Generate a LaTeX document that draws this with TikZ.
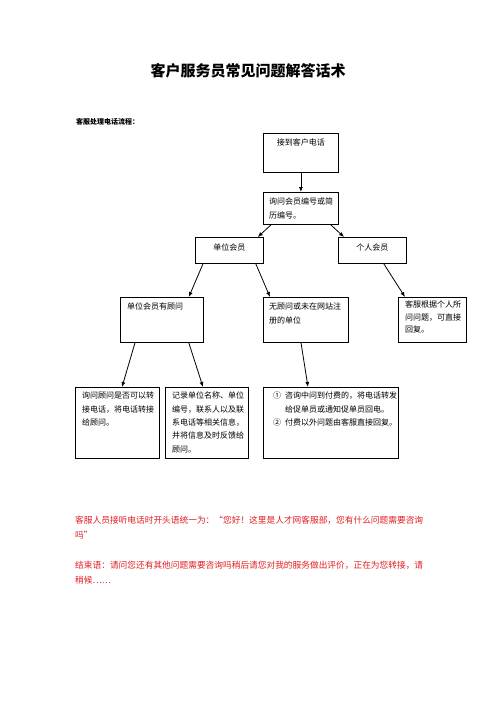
\documentclass[tikz,border=0pt]{standalone}
\usepackage{fontspec}
\setmainfont{Noto Sans CJK SC}
\usetikzlibrary{calc,arrows.meta}
\definecolor{redtxt}{RGB}{225,30,35}
\begin{document}
\begin{tikzpicture}[x=1pt,y=-1pt,
  box/.style={draw,line width=0.8pt,inner sep=0pt,anchor=north west},
  txt/.style={inner sep=0pt,anchor=north west,align=left,font=\fontsize{8}{13.3}\selectfont},
  redline/.style={inner sep=0pt,anchor=north west,align=left,text=redtxt,font=\fontsize{8.7}{15}\selectfont},
  arr/.style={-{Latex[length=5pt,width=4pt]},line width=0.8pt}]
\useasboundingbox[fill=white] (0,0) rectangle (496,702);

\node[font=\fontsize{15}{18}\bfseries\selectfont] (title) at (248,71) {客户服务员常见问题解答话术};
\node[anchor=west,inner sep=0pt,font=\fontsize{7}{8}\bfseries\selectfont] (head) at (76,122) {客服处理电话流程：};

% boxes
\node[box,minimum width=75pt,minimum height=39pt] (b1) at (263,133) {};
\node[box,minimum width=75pt,minimum height=32pt] (b2) at (263,192) {};
\node[box,minimum width=68pt,minimum height=26pt] (b3) at (195,237) {};
\node[box,minimum width=68pt,minimum height=26pt] (b4) at (338,237) {};
\node[box,minimum width=83pt,minimum height=45pt] (b5) at (120,297) {};
\node[box,minimum width=85pt,minimum height=45pt] (b6) at (263,297) {};
\node[box,minimum width=68pt,minimum height=45pt] (b7) at (398,297) {};
\node[box,minimum width=84pt,minimum height=71pt] (b8) at (75,387) {};
\node[box,minimum width=83pt,minimum height=71pt] (b9) at (165,387) {};
\node[box,minimum width=135pt,minimum height=71pt] (b10) at (263,387) {};

% texts
\node[txt,anchor=north] (t1) at ($(b1.north)+(0,6)$) {接到客户电话};
\node[txt] (t2) at ($(b2.north west)+(6,6)$) {询问会员编号或简\\历编号。};
\node[txt,anchor=north] (t3) at ($(b3.north)+(0,7)$) {单位会员};
\node[txt,anchor=north] (t4) at ($(b4.north)+(0,7)$) {个人会员};
\node[txt] (t5) at ($(b5.north west)+(7,6)$) {单位会员有顾问};
\node[txt] (t6) at ($(b6.north west)+(6,6)$) {无顾问或未在网站注\\册的单位};
\node[txt,font=\fontsize{8}{12.5}\selectfont] (t7) at ($(b7.north west)+(7,4)$) {客服根据个人所\\问问题，可直接\\回复。};
\node[txt] (t8) at ($(b8.north west)+(7,5)$) {询问顾问是否可以转\\接电话，将电话转接\\给顾问。};
\node[txt] (t9) at ($(b9.north west)+(7,5)$) {记录单位名称、单位\\编号，联系人以及联\\系电话等相关信息，\\并将信息及时反馈给\\顾问。};
\node[txt] (t10) at ($(b10.north west)+(10,5)$) {\makebox[12pt][l]{①}咨询中问到付费的，将电话转发\\\hspace*{12pt}给促单员或通知促单员回电。\\\makebox[12pt][l]{②}付费以外问题由客服直接回复。};

% arrows
\draw[arr] (b1.south) -- (b2.north);
\draw[arr] ($(b2.south west)+(8,0)$) -- ($(b3.north east)+(-6,0)$);
\draw[arr] ($(b2.south east)+(-8,0)$) -- ($(b4.north west)+(6,0)$);
\draw[arr] ($(b3.south west)+(8,0)$) -- ($(b5.north east)+(-15,0)$);
\draw[arr] ($(b3.south east)+(-8,0)$) -- ($(b6.north west)+(7,0)$);
\draw[arr] ($(b4.south east)+(-23,0)$) -- ($(b7.north west)+(7,0)$);
\draw[arr] ($(b5.south west)+(15,0)$) -- ($(b8.north west)+(47,0)$);
\draw[arr] ($(b5.south east)+(-15,0)$) -- ($(b9.north west)+(38,0)$);
\draw[arr] ($(b6.south west)+(38,0)$) -- ($(b10.north west)+(45,0)$);

% red text
\node[redline] (r1) at (75,516) {客服人员接听电话时开头语统一为：“您好！这里是人才网客服部，您有什么问题需要咨询\\吗”};
\node[redline] (r2) at (75,561) {结束语：请问您还有其他问题需要咨询吗稍后请您对我的服务做出评价，正在为您转接，请\\稍候……};
\end{tikzpicture}
\end{document}
